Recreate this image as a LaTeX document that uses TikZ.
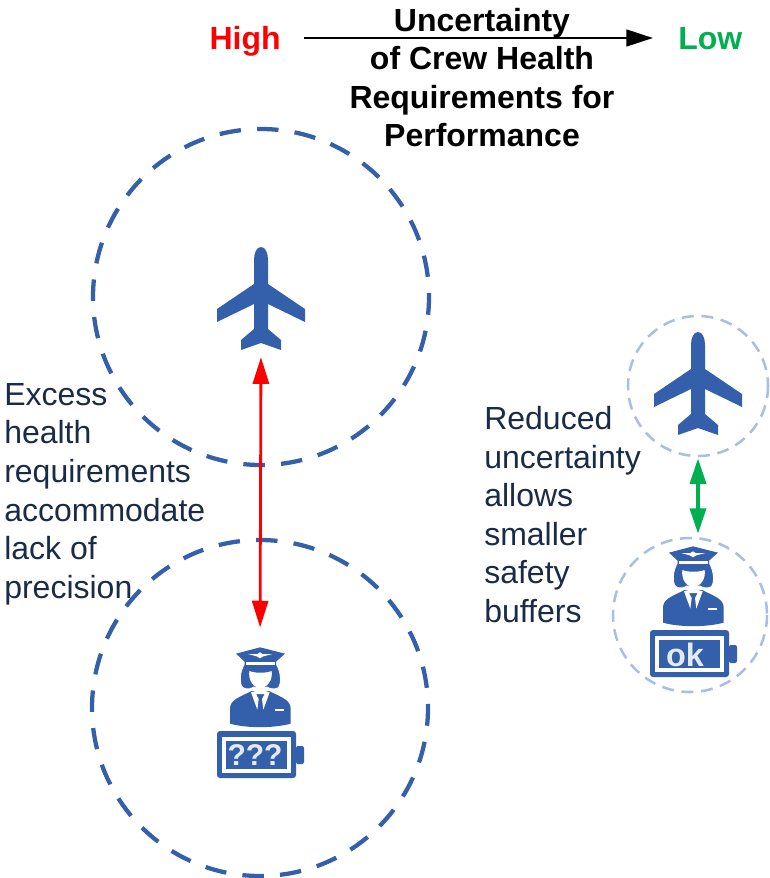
\documentclass[tikz,border=0pt]{standalone}
\usepackage{fontspec}
\setmainfont{Liberation Sans}
\usetikzlibrary{arrows.meta}
\definecolor{iconblue}{HTML}{335FAB}
\definecolor{lightring}{HTML}{A9BEE6}
\definecolor{navytext}{HTML}{1A2B47}
\definecolor{okgreen}{HTML}{00B050}
\definecolor{pale}{HTML}{E3EBEE}
\tikzset{
  ringbig/.style={draw=iconblue,line width=3.2pt,dash pattern=on 16.1pt off 12.17pt,dash phase=2.8pt},
  ringsmall/.style={draw=lightring,line width=1.9pt,dash pattern=on 9pt off 5.7pt},
  anchorbox/.style={inner sep=0pt,minimum width=66pt,minimum height=77pt},
  pilotbox/.style={inner sep=0pt,minimum width=60pt,minimum height=98pt},
  bodytext/.style={font=\fontsize{24}{28.95}\selectfont,text=navytext,align=left,inner sep=0pt,anchor=north west},
  titletext/.style={font=\fontsize{24}{28.95}\selectfont\bfseries,align=center,inner sep=0pt},
  endlabel/.style={font=\fontsize{24}{28}\selectfont\bfseries,inner sep=0pt,text height=17.2pt,text depth=0pt},
  plane/.pic={
    \fill[iconblue] (0,-51) .. controls (4.5,-51) and (7,-45) .. (7,-38) -- (7,-14) -- (44,11) -- (44,24) -- (7,6) -- (7,31) -- (20,42) -- (20,52) -- (0,45) -- (-20,52) -- (-20,42) -- (-7,31) -- (-7,6) -- (-44,24) -- (-44,11) -- (-7,-14) -- (-7,-38) .. controls (-7,-45) and (-4.5,-51) .. (0,-51) -- cycle;
  },
  pilot/.pic={
    \begin{scope}[x=0.25pt,y=-0.25pt,shift={(-180,-55)}]
      % body
      \fill[iconblue] (90,282) -- (90,238) .. controls (90,212) and (112,205) .. (155,184) -- (207,184) .. controls (250,205) and (272,212) .. (272,238) -- (272,282) .. controls (220,296) and (140,296) .. (90,282) -- cycle;
      % collar and tie
      \fill[white] (153,188) -- (170,183) -- (192,183) -- (209,188) -- (190,240) -- (186,208) -- (194,193) -- (168,193) -- (176,208) -- (172,240) -- cycle;
      \fill[white] (225,238) rectangle (253,244);
      % hair
      \fill[iconblue,draw=white,line width=0.7pt] (135,100) .. controls (118,125) and (116,165) .. (130,175) .. controls (142,180) and (152,178) .. (162,172) -- (200,172) .. controls (210,178) and (222,180) .. (234,175) .. controls (246,165) and (244,125) .. (227,100) -- cycle;
      \fill[white] (148,124) .. controls (165,131) and (197,131) .. (215,124) .. controls (218,150) and (205,168) .. (192,172) -- (192,184) -- (170,184) -- (170,172) .. controls (157,168) and (145,150) .. (148,124) -- cycle;
      % cap
      \fill[iconblue] (108,72) -- (180,53) -- (255,72) -- (228,96) -- (228,118) .. controls (200,128) and (160,128) .. (134,118) -- (134,96) -- cycle;
      \fill[white] (137,97) rectangle (225,106);
      \fill[white] (144,73) -- (172,73) -- (180,68) -- (188,73) -- (218,73) -- (190,80) -- (180,86) -- (170,80) -- cycle;
    \end{scope}
  },
  battery/.pic={
    \begin{scope}[x=0.75pt,y=-0.75pt]
      \fill[iconblue,rounded corners=2.2pt] (-43,0) rectangle (36,47);
      \fill[iconblue,rounded corners=1.5pt] (36,15) rectangle (44,33);
      \fill[white] (-38,5.5) rectangle (30.5,41.5);
      \fill[iconblue] (-33.7,9.5) rectangle (26.5,37.5);
    \end{scope}
  }
}
\begin{document}
\begin{tikzpicture}[x=0.75pt,y=-0.75pt]
\useasboundingbox (0,0) rectangle (770,878);
% rings
\draw[ringbig] (261,297) circle[radius=168];
\draw[ringbig] (260,708) circle[radius=168];
\draw[ringsmall] (698,386) circle[radius=70];
\draw[ringsmall] (690,615) circle[radius=77];
% icons
\node[anchorbox] (planeA) at (261,298.5) {};
\node[anchorbox] (planeB) at (698,383.5) {};
\pic at (261,298) {plane};
\pic at (698,383) {plane};
\node[pilotbox] (pilotA) at (260,713) {};
\node[pilotbox] (pilotB) at (693,612) {};
\pic at (260,648) {pilot};
\pic at (693,547) {pilot};
\pic at (260,731) {battery};
\pic at (693,630) {battery};
\node[font=\fontsize{22.5}{24}\selectfont\bfseries,text=pale,inner sep=0pt] (qq) at (255,755) {???};
\node[font=\fontsize{24.3}{26}\selectfont\bfseries,text=pale,inner sep=0pt] (ok) at (685,655) {ok};
% header
\node[endlabel,text=red,anchor=east] (high) at (281,38) {High};
\node[endlabel,text=okgreen,anchor=west] (low) at (678,38) {Low};
\node[titletext] (title) at (482,77.5) {Uncertainty\\of Crew Health\\Requirements for\\Performance};
\draw[line width=1.9pt,-{Triangle[length=20pt,width=12.5pt]},shorten <=17.25pt,shorten >=18.75pt] (high.east) -- (low.west);
% labels
\node[bodytext] (leftlabel) at (4,383) {Excess\\health\\requirements\\accommodate\\lack of\\precision};
\node[bodytext] (rightlabel) at (484,406) {Reduced\\uncertainty\\allows\\smaller\\safety\\buffers};
% double arrows
\draw[red,line width=2.1pt,{Triangle[length=20pt,width=12pt]}-{Triangle[length=20pt,width=12pt]},shorten <=5.3pt,shorten >=15pt] (planeA.south) -- (pilotA.north);
\draw[okgreen,line width=2.5pt,{Triangle[length=19pt,width=12pt]}-{Triangle[length=19pt,width=12pt]},shorten <=17.5pt,shorten >=9.5pt] (planeB.south) -- (planeB.south |- pilotB.north);
\end{tikzpicture}
\end{document}
